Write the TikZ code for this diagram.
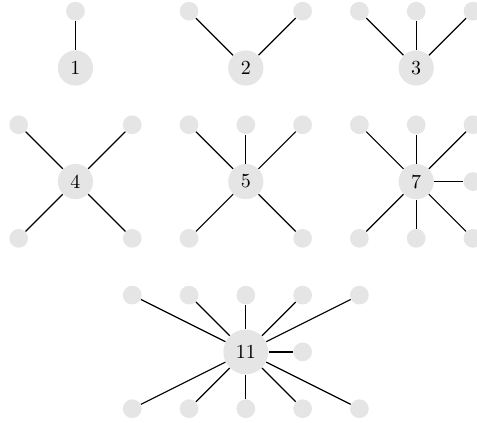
\documentclass[tikz,border=0pt]{standalone}
\usepackage{tikz}
\usetikzlibrary{positioning}

\tikzset{
  hub/.style={circle, fill=black!10, minimum size=0.62cm, inner sep=0pt},
  leaf/.style={circle, fill=black!10, minimum size=0.33cm, inner sep=0pt},
  spoke/.style={line width=0.6pt}
}

\begin{document}
\begin{tikzpicture}
    \useasboundingbox (-1.329,1.197) rectangle (7.071,-6.25);

    % Hubs
    \node[hub] (h1) at (0,0) {1};
    \node[hub] (h2) at (3,0) {2};
    \node[hub] (h3) at (6,0) {3};
    \node[hub] (h4) at (0,-2) {4};
    \node[hub] (h5) at (3,-2) {5};
    \node[hub] (h7) at (6,-2) {7};
    \node[hub, minimum size=0.79cm] (h11) at (3,-5) {11};

    % Leaves and spokes
    \foreach \dx/\dy [count=\i] in {0/1} {
        \path (h1) ++(\dx,\dy) node[leaf] (a\i) {};
        \draw[spoke] (h1) -- (a\i);
    }
    \foreach \dx/\dy [count=\i] in {-1/1, 1/1} {
        \path (h2) ++(\dx,\dy) node[leaf] (b\i) {};
        \draw[spoke] (h2) -- (b\i);
    }
    \foreach \dx/\dy [count=\i] in {-1/1, 0/1, 1/1} {
        \path (h3) ++(\dx,\dy) node[leaf] (c\i) {};
        \draw[spoke] (h3) -- (c\i);
    }
    \foreach \dx/\dy [count=\i] in {-1/1, 1/1, -1/-1, 1/-1} {
        \path (h4) ++(\dx,\dy) node[leaf] (d\i) {};
        \draw[spoke] (h4) -- (d\i);
    }
    \foreach \dx/\dy [count=\i] in {-1/1, 0/1, 1/1, -1/-1, 1/-1} {
        \path (h5) ++(\dx,\dy) node[leaf] (e\i) {};
        \draw[spoke] (h5) -- (e\i);
    }
    \foreach \dx/\dy [count=\i] in {-1/1, 0/1, 1/1, 1/0, -1/-1, 0/-1, 1/-1} {
        \path (h7) ++(\dx,\dy) node[leaf] (f\i) {};
        \draw[spoke] (h7) -- (f\i);
    }
    \foreach \dx/\dy [count=\i] in {-2/1, -1/1, 0/1, 1/1, 2/1, 1/0,
                                    -2/-1, -1/-1, 0/-1, 1/-1, 2/-1} {
        \path (h11) ++(\dx,\dy) node[leaf] (g\i) {};
        \draw[spoke] (h11) -- (g\i);
    }
\end{tikzpicture}
\end{document}
